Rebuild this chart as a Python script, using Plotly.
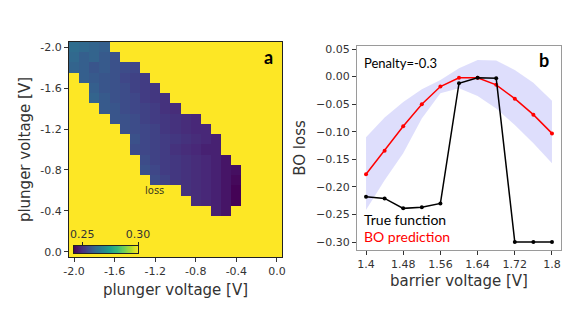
import numpy as np
import plotly.graph_objects as go

# ---------------- data: panel a (plunger voltage map) ----------------
plunger_x = [-2.0, -1.9, -1.8, -1.7, -1.6, -1.5, -1.4, -1.3, -1.2, -1.1, -1.0,
             -0.9, -0.8, -0.7, -0.6, -0.5, -0.4, -0.3, -0.2, -0.1, 0.0]
plunger_y = list(plunger_x)
HIGH = 0.35  # cells outside the band (saturated, shown yellow)
band_start = [0, 0, 0, 1, 2, 2, 3, 4, 5, 6, 6, 7, 7, 8, 11, 12, 14]
band_values = [
    [0.263, 0.262, 0.261, 0.260],
    [0.262, 0.260, 0.261, 0.259, 0.257],
    [0.261, 0.260, 0.258, 0.259, 0.257, 0.256, 0.255],
    [0.260, 0.259, 0.258, 0.257, 0.255, 0.254, 0.253],
    [0.260, 0.258, 0.257, 0.256, 0.254, 0.253, 0.252],
    [0.261, 0.259, 0.257, 0.256, 0.255, 0.253, 0.252, 0.251],
    [0.259, 0.258, 0.256, 0.255, 0.254, 0.253, 0.251, 0.250],
    [0.258, 0.257, 0.256, 0.254, 0.253, 0.252, 0.251, 0.250, 0.249],
    [0.257, 0.256, 0.255, 0.254, 0.252, 0.251, 0.250, 0.249, 0.249],
    [0.257, 0.255, 0.254, 0.253, 0.252, 0.251, 0.250, 0.249, 0.248],
    [0.256, 0.255, 0.254, 0.253, 0.251, 0.250, 0.249, 0.248, 0.248],
    [0.256, 0.254, 0.253, 0.252, 0.251, 0.250, 0.249, 0.248, 0.246],
    [0.257, 0.255, 0.253, 0.252, 0.251, 0.250, 0.249, 0.248, 0.246, 0.245],
    [0.256, 0.254, 0.252, 0.251, 0.250, 0.249, 0.248, 0.246, 0.244],
    [0.251, 0.250, 0.249, 0.248, 0.246, 0.243],
    [0.250, 0.249, 0.248, 0.246, 0.243],
    [0.248, 0.246],
]
ZMIN, ZMAX = 0.2427, 0.30
tick_vals_a = [-2.0, -1.6, -1.2, -0.8, -0.4, 0.0]
tick_text_a = ["-2.0", "-1.6", "-1.2", "-0.8", "-0.4", "0.0"]
cb_tick_vals = [0.25, 0.30]
cb_tick_text = ["0.25", "0.30"]

# ---------------- data: panel b (BO loss) ----------------
barrier_x = [1.40, 1.44, 1.48, 1.52, 1.56, 1.60, 1.64, 1.68, 1.72, 1.76, 1.80]
true_fn = [-0.218, -0.221, -0.239, -0.237, -0.230, -0.012, -0.002, -0.003, -0.300, -0.300, -0.300]
bo_pred = [-0.177, -0.1345, -0.090, -0.050, -0.018, -0.002, -0.002, -0.015, -0.040, -0.069, -0.103]
band_upper = [-0.110, -0.074, -0.046, -0.023, -0.006, 0.015, 0.030, 0.029, 0.012, -0.011, -0.044]
band_lower = [-0.242, -0.188, -0.139, -0.076, -0.030, -0.021, -0.035, -0.058, -0.088, -0.121, -0.157]
tick_vals_bx = [1.4, 1.48, 1.56, 1.64, 1.72, 1.8]
tick_text_bx = ["1.4", "1.48", "1.56", "1.64", "1.72", "1.8"]
tick_vals_by = [0.05, 0.0, -0.05, -0.10, -0.15, -0.20, -0.25, -0.30]

# build full matrix
loss_z = []
for r in range(len(plunger_y)):
    row = [HIGH] * len(plunger_x)
    if r < len(band_start):
        for k, v in enumerate(band_values[r]):
            row[band_start[r] + k] = v
    loss_z.append(row)

W, H = 580, 327
def px(x): return x / W
def py(y): return 1 - y / H

TXT = "#333333"
FONT = "DejaVu Sans"

fig = go.Figure()
fig.add_trace(go.Heatmap(x=plunger_x, y=plunger_y, z=loss_z, colorscale="Viridis",
                         zmin=ZMIN, zmax=ZMAX, showscale=False, xaxis="x", yaxis="y",
                         hoverinfo="skip"))
cb_x = list(np.linspace(ZMIN, ZMAX, 120))
fig.add_trace(go.Heatmap(x=cb_x, y=[0], z=[cb_x], colorscale="Viridis", zmin=ZMIN, zmax=ZMAX,
                         showscale=False, xaxis="x3", yaxis="y3", hoverinfo="skip"))

fig.add_trace(go.Scatter(x=barrier_x, y=band_upper, mode="lines", line=dict(width=0),
                         xaxis="x2", yaxis="y2", showlegend=False, hoverinfo="skip"))
fig.add_trace(go.Scatter(x=barrier_x, y=band_lower, mode="lines", line=dict(width=0),
                         fill="tonexty", fillcolor="rgba(0,0,230,0.13)",
                         xaxis="x2", yaxis="y2", showlegend=False, hoverinfo="skip"))
fig.add_trace(go.Scatter(x=barrier_x, y=bo_pred, mode="lines+markers",
                         line=dict(color="red", width=1.5), marker=dict(color="red", size=4),
                         xaxis="x2", yaxis="y2", showlegend=False, name="BO prediction"))
fig.add_trace(go.Scatter(x=barrier_x, y=true_fn, mode="lines+markers",
                         line=dict(color="black", width=1.5), marker=dict(color="black", size=4),
                         xaxis="x2", yaxis="y2", showlegend=False, name="True function"))

axis_common = dict(showgrid=False, zeroline=False, ticks="outside", ticklen=4, automargin=False,
                   tickcolor=TXT, tickfont=dict(family=FONT, size=11, color=TXT))

def note(text, x, y, size, color, family="Lato", xanchor="center"):
    return dict(text=text, x=px(x), y=py(y), xref="paper", yref="paper",
                xanchor=xanchor, yanchor="middle", showarrow=False,
                font=dict(family=family, size=size, color=color))

fig.update_layout(
    width=W, height=H, margin=dict(l=0, r=0, t=0, b=0, autoexpand=False),
    paper_bgcolor="white", plot_bgcolor="white", showlegend=False,
    font=dict(family=FONT, color=TXT),
    xaxis=dict(domain=[px(69), px(282)], range=[-2.05, 0.05], anchor="y",
               tickvals=tick_vals_a, ticktext=tick_text_a,
               showline=True, mirror=True, linecolor="#222", linewidth=1,
               title=dict(text="plunger voltage [V]", font=dict(family=FONT, size=15, color=TXT), standoff=7),
               **axis_common),
    yaxis=dict(domain=[py(257), py(42)], range=[0.05, -2.05], anchor="x",
               tickvals=tick_vals_a, ticktext=tick_text_a,
               showline=True, mirror=True, linecolor="#222", linewidth=1,
               title=dict(text="plunger voltage [V]", font=dict(family=FONT, size=15, color=TXT), standoff=6),
               **axis_common),
    xaxis2=dict(domain=[px(357), px(561)], range=[1.3806, 1.8194], anchor="y2",
                tickvals=tick_vals_bx, ticktext=tick_text_bx,
                showline=True, mirror=True, linecolor="#9a9a9a", linewidth=1,
                title=dict(text="barrier voltage [V]", font=dict(family=FONT, size=15, color=TXT), standoff=5),
                **axis_common),
    yaxis2=dict(domain=[py(250), py(46)], range=[-0.3145, 0.0555], anchor="x2",
                tickvals=tick_vals_by, tickformat=".2f",
                showline=True, mirror=True, linecolor="#9a9a9a", linewidth=1,
                title=dict(text="BO loss", font=dict(family=FONT, size=15, color=TXT), standoff=6),
                **axis_common),
    xaxis3=dict(domain=[px(74), px(138)], range=[ZMIN, ZMAX], anchor="y3", side="top",
                tickvals=cb_tick_vals, ticktext=cb_tick_text, showgrid=False, zeroline=False,
                ticks="outside", ticklen=3, tickcolor="#222", automargin=False,
                tickfont=dict(family=FONT, size=11, color=TXT),
                showline=True, mirror=True, linecolor="#222", linewidth=1),
    yaxis3=dict(domain=[py(253), py(246)], range=[-0.5, 0.5], anchor="x3", automargin=False,
                showticklabels=False, ticks="", showgrid=False, zeroline=False,
                showline=True, mirror=True, linecolor="#222", linewidth=1),
    annotations=[
        note("<b>a</b>", 268, 57, 18, "black"),
        note("<b>b</b>", 544, 60, 18, "black"),
        note("Penalty=-0.3", 362, 63, 13, "black", xanchor="left"),
        note("True function", 362, 219, 14, "black", xanchor="left"),
        note("BO prediction", 362, 236, 14, "red", xanchor="left"),
        note("loss", 154, 190, 10, "#3a3a20", family=FONT),
    ],
)

fig.write_html("out.html", config={"displayModeBar": False},
               post_script="document.body.style.margin='0';")
